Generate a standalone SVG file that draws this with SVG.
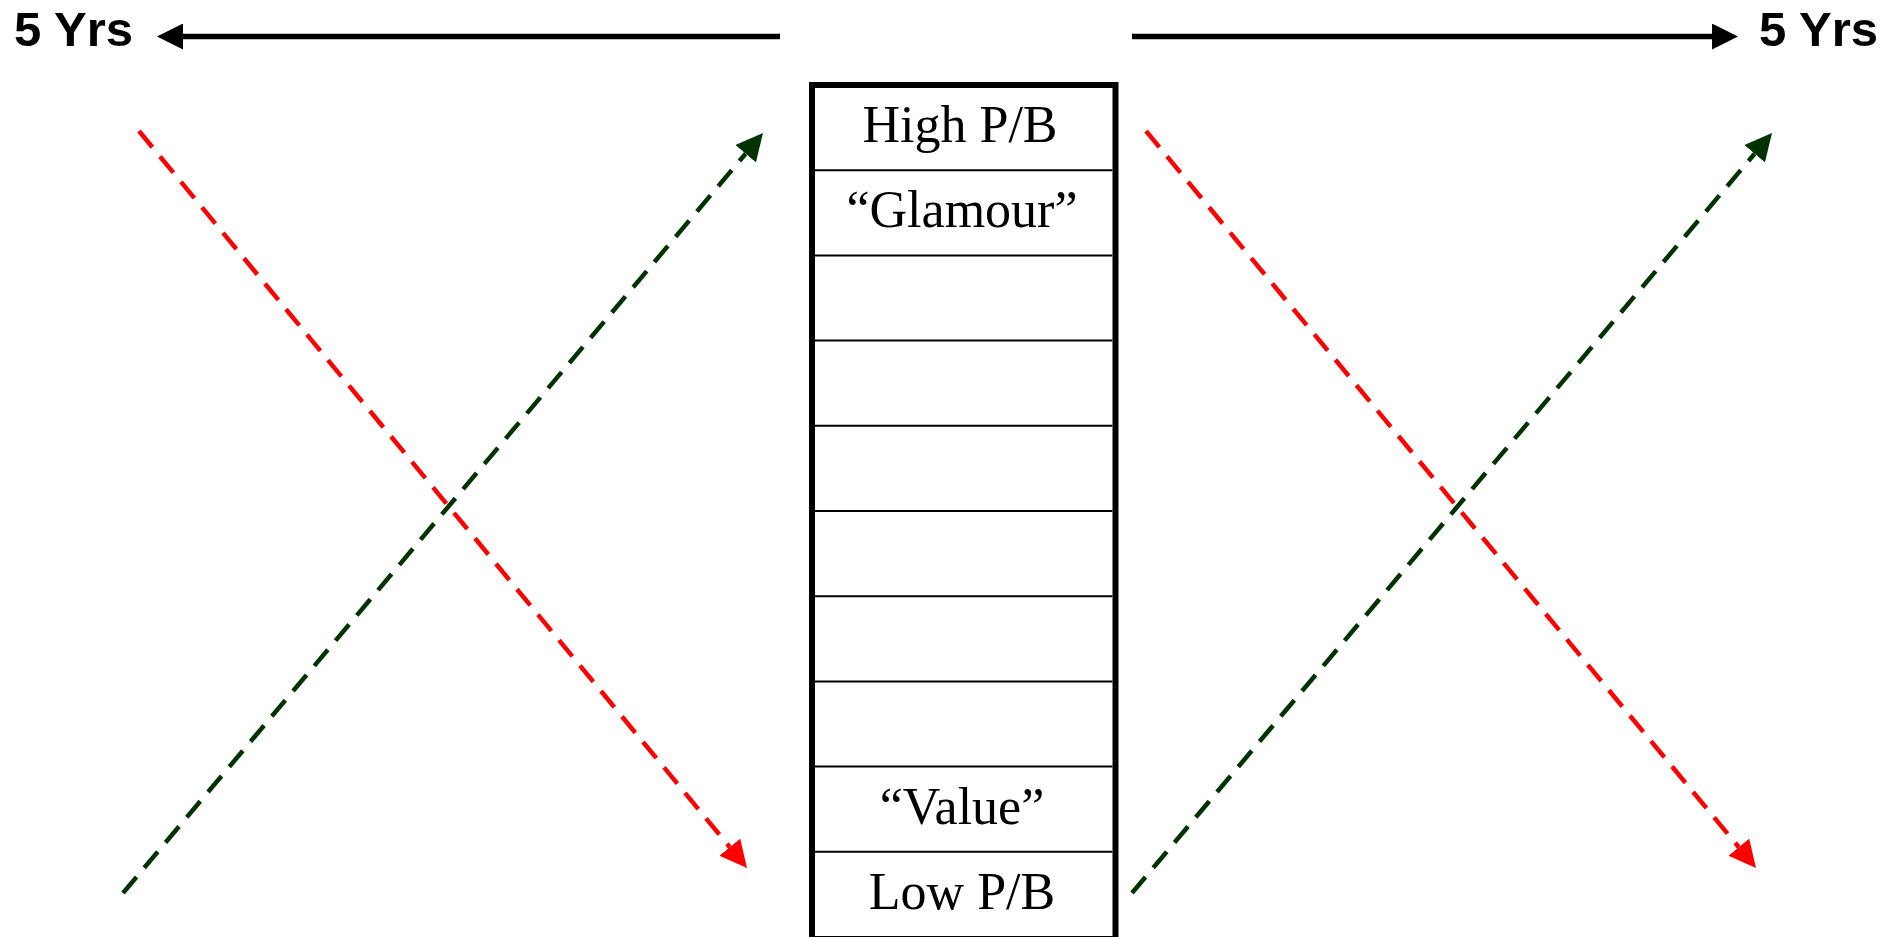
<svg xmlns="http://www.w3.org/2000/svg" width="1898" height="937" viewBox="0 0 1898 937">
  <style>
    .yrs { font-family: "Liberation Sans", Arial, sans-serif; font-weight: bold; font-size: 49px; fill: #000; }
    .lbl { font-family: "Liberation Serif", "Times New Roman", serif; font-size: 52px; fill: #000; text-anchor: middle; }
    .div { stroke: #000; stroke-width: 2; }
    .axis { stroke: #000; stroke-width: 5.5; fill: none; }
    .red { stroke: #FF0000; stroke-width: 4.5; stroke-dasharray: 21 12; fill: none; }
    .grn { stroke: #003300; stroke-width: 4.5; stroke-dasharray: 21 12; fill: none; }
  </style>
  <defs>
    <marker id="ahBlack" markerUnits="userSpaceOnUse" markerWidth="26" markerHeight="26" viewBox="0 0 26 26" refX="0" refY="13" orient="auto">
      <path d="M0,0 L26,13 L0,26 z" fill="#000"/>
    </marker>
    <marker id="ahRed" markerUnits="userSpaceOnUse" markerWidth="27" markerHeight="27" viewBox="0 0 27 27" refX="0" refY="13.5" orient="auto">
      <path d="M0,0 L27,13.5 L0,27 z" fill="#FF0000"/>
    </marker>
    <marker id="ahGrn" markerUnits="userSpaceOnUse" markerWidth="27" markerHeight="27" viewBox="0 0 27 27" refX="0" refY="13.5" orient="auto">
      <path d="M0,0 L27,13.5 L0,27 z" fill="#003300"/>
    </marker>
  </defs>
  <rect width="1898" height="937" fill="#fff"/>

  <g id="label-left">
    <text class="yrs" x="14" y="46">5 Yrs</text>
  </g>
  <g id="label-right">
    <text class="yrs" x="1759" y="46">5 Yrs</text>
  </g>

  <g id="pb-column">
    <rect x="812" y="85" width="303.5" height="854" fill="#fff" stroke="#000" stroke-width="6"/>
    <line class="div" x1="815" y1="170.2" x2="1112.5" y2="170.2"/>
    <line class="div" x1="815" y1="255.4" x2="1112.5" y2="255.4"/>
    <line class="div" x1="815" y1="340.6" x2="1112.5" y2="340.6"/>
    <line class="div" x1="815" y1="425.8" x2="1112.5" y2="425.8"/>
    <line class="div" x1="815" y1="511" x2="1112.5" y2="511"/>
    <line class="div" x1="815" y1="596.2" x2="1112.5" y2="596.2"/>
    <line class="div" x1="815" y1="681.4" x2="1112.5" y2="681.4"/>
    <line class="div" x1="815" y1="766.6" x2="1112.5" y2="766.6"/>
    <line class="div" x1="815" y1="851.8" x2="1112.5" y2="851.8"/>
    <text class="lbl" x="960" y="142">High P/B</text>
    <text class="lbl" x="962" y="227">“Glamour”</text>
    <text class="lbl" x="962" y="823.5">“Value”</text>
    <text class="lbl" x="962" y="909">Low P/B</text>
  </g>

  <g id="connectors">
    <line class="axis" x1="780" y1="36.5" x2="183" y2="36.5" marker-end="url(#ahBlack)"/>
    <line class="axis" x1="1132" y1="36.5" x2="1712" y2="36.5" marker-end="url(#ahBlack)"/>
    <line class="red" x1="139" y1="131" x2="729.8" y2="847.2" marker-end="url(#ahRed)"/>
    <line class="grn" x1="123" y1="893" x2="745.6" y2="153.7" marker-end="url(#ahGrn)"/>
    <line class="red" x1="1146" y1="131" x2="1738.8" y2="847.2" marker-end="url(#ahRed)"/>
    <line class="grn" x1="1132" y1="893" x2="1754.6" y2="153.7" marker-end="url(#ahGrn)"/>
  </g>
</svg>
